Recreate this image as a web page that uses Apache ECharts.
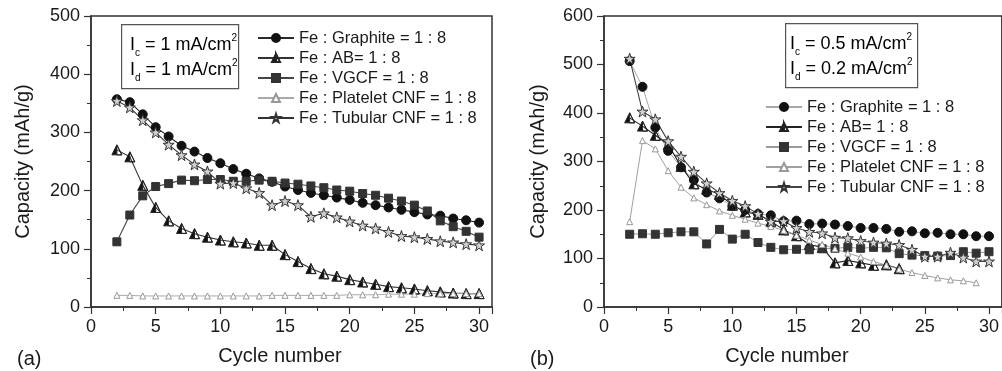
<!DOCTYPE html>
<html>
<head>
<meta charset="utf-8">
<script src="https://cdn.jsdelivr.net/npm/echarts@6/dist/echarts.min.js"></script>
<style>html,body{margin:0;padding:0;background:#fff;}#c{width:1002px;height:371px;}</style>
</head>
<body>
<div id="c"></div>
<script>
// ---- data ----
const cycles = [2,3,4,5,6,7,8,9,10,11,12,13,14,15,16,17,18,19,20,21,22,23,24,25,26,27,28,29,30];
const xTicks = [0,5,10,15,20,25,30];
const seriesNames = ['Fe : Graphite = 1 : 8','Fe : AB= 1 : 8','Fe : VGCF = 1 : 8','Fe : Platelet CNF = 1 : 8','Fe : Tubular CNF = 1 : 8'];

// panel (a)
const graphiteA = [357,352,331,309,293,277,267,256,247,237,229,221,215,207,201,196,192,188,184,179,175,171,167,163,159,157,152,149,145];
const abA       = [270,258,209,171,148,135,126,120,115,112,110,106,106,90,78,66,57,53,47,43,39,35,33,31,28,26,24,23,23];
const vgcfA     = [112,158,191,207,212,218,217,219,219,216,216,218,216,213,211,208,205,201,199,195,192,187,182,175,165,148,138,130,120];
const plateletA = [20,20,19,19,19,19,19,19,19,19,19,19,20,20,20,20,20,20,21,21,21,22,22,22,23,23,23,23,23];
const tubularA  = [354,343,321,300,279,261,245,233,212,213,204,196,175,182,175,155,161,154,147,140,135,129,122,120,117,113,111,108,106];

// panel (b)
const graphiteB = [507,454,370,322,288,262,236,224,208,200,192,189,177,178,171,172,170,167,163,163,161,155,156,152,153,150,150,146,146];
const abB       = [390,373,354,335,290,254,243,232,210,196,191,177,159,147,129,123,91,96,91,86,87,79];
const vgcfB     = [150,151,150,153,155,155,130,160,140,150,133,123,118,119,118,120,121,123,121,123,122,110,107,106,105,106,114,111,114];
const plateletB = [176,343,326,281,247,225,211,198,189,181,173,166,158,148,138,129,120,111,103,94,86,78,71,65,60,56,54,50];
const tubularB  = [512,403,387,342,310,279,255,235,219,208,192,176,177,163,155,152,143,142,136,133,131,128,118,104,104,112,102,94,94];

// ---- styling ----
const FONT = '"Liberation Sans", Arial, Helvetica, sans-serif';
const TXT = '#1a1a1a';
const STAR = 'path://M50,2 L61,36 L97,36 L68,57 L79,92 L50,71 L21,92 L32,57 L3,36 L39,36 Z';
const HALFTRI = 'path://M5,0 L10,10 L0,10 Z M5,0 L5,10 L10,10 Z';

function pairs(ys){ return ys.map((y,i)=>[cycles[i], y]); }

function mk(name, ys, idx, sym, size, fill, border, lineColor, lw){
  return {
    type:'line', name:name, xAxisIndex:idx, yAxisIndex:idx,
    data: pairs(ys), symbol:sym, symbolSize:size,
    itemStyle:{color:fill, borderColor:border, borderWidth:1},
    lineStyle:{color:lineColor, width:lw},
    emphasis:{disabled:true}, animation:false
  };
}

const SUF = '\u200b';
const series = [
  mk(seriesNames[0], graphiteA, 0, 'circle', 9, '#111', '#111', '#2a2a2a', 1.1),
  mk(seriesNames[1], abA, 0, HALFTRI, 10, '#111', '#222', '#333', 1.1),
  mk(seriesNames[2], vgcfA, 0, 'rect', 8, '#333', '#333', '#444', 1.1),
  mk(seriesNames[3], plateletA, 0, 'triangle', 6, '#fff', '#999', '#aaa', 1),
  mk(seriesNames[4], tubularA, 0, STAR, 11, '#d0d0d0', '#333', '#333', 1.1),
  mk(seriesNames[0]+SUF, graphiteB, 1, 'circle', 9, '#111', '#111', '#a8a8a8', 1),
  mk(seriesNames[1]+SUF, abB, 1, HALFTRI, 10, '#111', '#222', '#222', 1.1),
  mk(seriesNames[2]+SUF, vgcfB, 1, 'rect', 8, '#333', '#333', '#9a9a9a', 1),
  mk(seriesNames[3]+SUF, plateletB, 1, 'triangle', 6, '#fff', '#999', '#a0a0a0', 1),
  mk(seriesNames[4]+SUF, tubularB, 1, STAR, 11, '#d0d0d0', '#333', '#444', 1.1)
];

function xAx(idx, padR){
  return {
    type:'value', gridIndex:idx, min:0, max:31, interval:5,
    name:'Cycle number', nameLocation:'middle', nameGap:39,
    nameTextStyle:{fontFamily:FONT, fontSize:20, color:TXT, padding:[0,padR,0,0]},
    axisLine:{show:true, lineStyle:{color:'#333', width:1.5}},
    axisTick:{show:true, inside:false, length:7, lineStyle:{color:'#333', width:1.2}},
    minorTick:{show:true, splitNumber:2, length:4, lineStyle:{color:'#333', width:1}},
    axisLabel:{fontFamily:FONT, fontSize:18, color:TXT, margin:11, showMaxLabel:false,
      formatter:v=> xTicks.indexOf(v)>=0 ? String(v) : ''},
    splitLine:{show:false}
  };
}
function yAx(idx, max, gap){
  return {
    type:'value', gridIndex:idx, min:0, max:max, interval:100,
    name:'Capacity (mAh/g)', nameLocation:'middle', nameGap:gap, nameRotate:90,
    nameTextStyle:{fontFamily:FONT, fontSize:20, color:TXT},
    axisLine:{show:true, lineStyle:{color:'#333', width:1.5}},
    axisTick:{show:true, inside:false, length:7, lineStyle:{color:'#333', width:1.2}},
    minorTick:{show:true, splitNumber:2, length:4, lineStyle:{color:'#333', width:1}},
    axisLabel:{fontFamily:FONT, fontSize:18, color:TXT, margin:11},
    splitLine:{show:false}
  };
}
function legend(names, left, top){
  return {
    data:names, left:left, top:top, orient:'vertical', padding:0, itemGap:0,
    itemWidth:36, itemHeight:10, selectedMode:false,
    formatter:n=>n.replace(SUF,''),
    textStyle:{fontFamily:FONT, fontSize:16.5, color:TXT, lineHeight:20}
  };
}
function box(x, y, w, h, l1, l2, tx){
  const rich = {
    m:{fontFamily:FONT, fontSize:18, color:TXT, lineHeight:25},
    s:{fontFamily:FONT, fontSize:10, color:TXT, verticalAlign:'bottom', lineHeight:12},
    p:{fontFamily:FONT, fontSize:10, color:TXT, verticalAlign:'top', lineHeight:12}
  };
  return [
    {type:'rect', left:x, top:y, shape:{width:w, height:h}, style:{fill:'#fff', stroke:'#555', lineWidth:1.2}, z:10},
    {type:'text', left:tx, top:y+9, z:11, style:{rich:rich,
      text:'{m|I}{s|c}{m| = '+l1+' mA/cm}{p|2}\n{m|I}{s|d}{m| = '+l2+' mA/cm}{p|2}'}}
  ];
}

const option = {
  backgroundColor:'#fff',
  animation:false,
  grid:[
    {left:91, top:16, width:401, height:293, show:true, borderColor:'#333', borderWidth:1.5, backgroundColor:'transparent'},
    {left:604, top:16, width:400, height:293, show:true, borderColor:'#333', borderWidth:1.5, backgroundColor:'transparent'}
  ],
  xAxis:[xAx(0,23), xAx(1,32)],
  yAxis:[yAx(0,500,58), yAx(1,600,56)],
  legend:[legend(seriesNames, 257, 28), legend(seriesNames.map(n=>n+SUF), 765, 97)],
  graphic:[].concat(
    box(121, 24, 117, 64, '1', '1', 130),
    box(785, 23, 132, 64, '0.5', '0.2', 790),
    [
      {type:'text', left:17, top:349, style:{text:'(a)', fontFamily:FONT, fontSize:20, fill:TXT}},
      {type:'text', left:530, top:349, style:{text:'(b)', fontFamily:FONT, fontSize:20, fill:TXT}}
    ]
  ),
  series:series
};

const chart = echarts.init(document.getElementById('c'), null, {renderer:'canvas'});
chart.setOption(option);
</script>
</body>
</html>
